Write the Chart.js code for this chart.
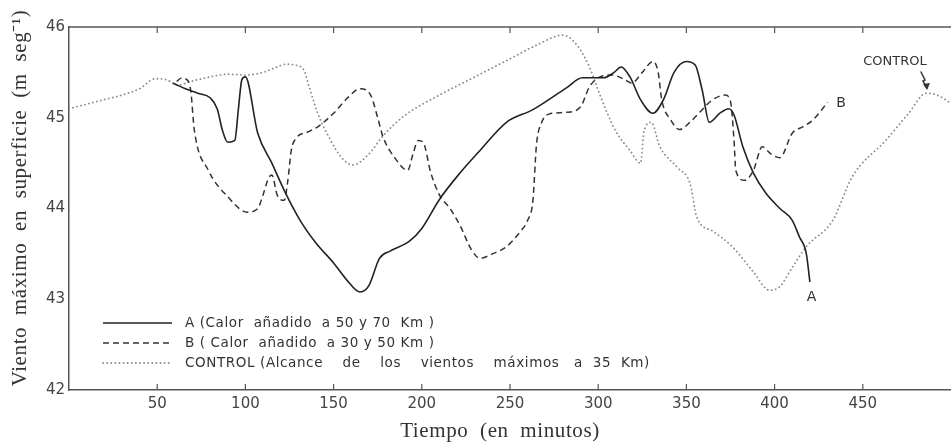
<!DOCTYPE html>
<html>
<head>
<meta charset="utf-8">
<script src="https://cdn.jsdelivr.net/npm/chart.js@4/dist/chart.umd.min.js"></script>
<style>
  html, body { margin: 0; padding: 0; background: #fff; }
</style>
</head>
<body>
<canvas id="grafico" width="951" height="443" style="width:951px;height:443px"></canvas>
<script>
// Curva A (calor añadido a 50 y 70 Km)
const tiempoA = [59, 66, 73, 80, 84, 87, 90, 94, 96, 98, 100, 107, 115, 122, 131, 140, 150, 158, 165, 170,
  176, 182, 193, 200, 210, 222, 233, 248, 263, 282, 291, 303, 309, 313, 318, 324, 331, 337, 343, 350,
  355, 359, 363, 369, 374, 377, 382, 388, 395, 403, 410, 414, 418, 420];
const vientoA = [45.38, 45.32, 45.27, 45.22, 45.1, 44.86, 44.73, 44.75, 45.09, 45.42, 45.45, 44.83, 44.5, 44.2, 43.87, 43.62, 43.4, 43.2, 43.08, 43.15,
  43.45, 43.53, 43.64, 43.78, 44.1, 44.4, 44.64, 44.95, 45.09, 45.33, 45.44, 45.44, 45.5, 45.56, 45.45, 45.2, 45.05, 45.2, 45.5, 45.62,
  45.58, 45.3, 44.95, 45.05, 45.1, 45.03, 44.68, 44.39, 44.17, 44.0, 43.87, 43.69, 43.5, 43.19];

// Curva B (calor añadido a 30 y 50 Km)
const tiempoB = [61, 64, 66, 69, 71, 79, 90, 101, 107, 110, 113, 115, 118, 122, 124, 126, 129, 135, 141, 150,
  158, 165, 171, 175, 178, 185, 192, 195, 198, 201, 205, 210, 216, 222, 228, 233, 240, 248, 256, 260,
  263, 265, 268, 272, 282, 290, 295, 301, 308, 315, 319, 325, 331, 334, 336, 341, 346, 352, 357, 365,
  372, 375, 377, 378, 383, 388, 393, 398, 403, 410, 416, 422, 430];
const vientoB = [45.4, 45.44, 45.43, 45.3, 44.87, 44.42, 44.13, 43.96, 44.0, 44.15, 44.33, 44.37, 44.15, 44.09, 44.3, 44.64, 44.78, 44.84, 44.9, 45.05,
  45.22, 45.32, 45.25, 45.0, 44.79, 44.55, 44.42, 44.6, 44.75, 44.72, 44.4, 44.15, 44.0, 43.8, 43.55, 43.45, 43.5, 43.58, 43.75, 43.87,
  44.09, 44.7, 44.95, 45.04, 45.06, 45.12, 45.34, 45.45, 45.47, 45.42, 45.38, 45.5, 45.62, 45.5, 45.2, 44.98, 44.87, 44.95, 45.05, 45.2,
  45.25, 45.18, 44.75, 44.42, 44.31, 44.42, 44.68, 44.6, 44.56, 44.83, 44.9, 44.98, 45.17];

// Control (alcance de los vientos maximos a 35 Km)
const tiempoC = [0, 10, 20, 30, 40, 49, 55, 62, 69, 80, 90, 100, 110, 118, 123, 128, 133, 136, 141, 147,
  155, 161, 170, 178, 190, 210, 230, 250, 265, 280, 288, 295, 302, 310, 318, 324, 326, 330, 335, 345,
  352, 356, 365, 376, 388, 397, 403, 410, 418, 433, 444, 463, 476, 486, 492, 500];
const vientoC = [45.1, 45.15, 45.2, 45.25, 45.32, 45.43, 45.42, 45.36, 45.4, 45.45, 45.48, 45.47, 45.5, 45.56, 45.59, 45.58, 45.53, 45.35, 45.05, 44.8,
  44.55, 44.48, 44.6, 44.8, 45.02, 45.25, 45.45, 45.65, 45.8, 45.91, 45.8, 45.56, 45.2, 44.85, 44.64, 44.5, 44.85, 44.95, 44.68, 44.45,
  44.28, 43.9, 43.75, 43.58, 43.3, 43.1, 43.14, 43.35, 43.58, 43.87, 44.35, 44.75, 45.05, 45.27, 45.25, 45.16];

const ticksX = [50, 100, 150, 200, 250, 300, 350, 400, 450];
const ticksY = [42, 43, 44, 45, 46];

const puntos = (ts, vs) => ts.map((t, i) => ({ x: t, y: vs[i] }));

const leyenda = [
  { texto: "A (Calor  añadido  a 50 y 70  Km )", dash: [] , color: "#222" },
  { texto: "B ( Calor  añadido  a 30 y 50 Km )", dash: [6, 4], color: "#333" },
  { texto: "CONTROL (Alcance    de    los    vientos    máximos   a  35  Km)", dash: [0.1, 4], color: "#8a8a8a" },
];

const decoracion = {
  id: "decoracion",
  afterDraw(chart) {
    const ctx = chart.ctx;
    const area = chart.chartArea;
    const sx = chart.scales.x;
    const sy = chart.scales.y;
    ctx.save();

    // linea superior y marcas interiores
    ctx.strokeStyle = "#555";
    ctx.lineWidth = 1.5;
    ctx.beginPath();
    ctx.moveTo(area.left, area.top);
    ctx.lineTo(area.right, area.top);
    ctx.stroke();
    ctx.lineWidth = 1.2;
    ticksX.forEach(t => {
      const px = sx.getPixelForValue(t);
      ctx.beginPath();
      ctx.moveTo(px, area.top);
      ctx.lineTo(px, area.top + 6);
      ctx.moveTo(px, area.bottom);
      ctx.lineTo(px, area.bottom - 6);
      ctx.stroke();
    });

    // leyenda
    ctx.font = "13.5px 'DejaVu Sans'";
    ctx.textBaseline = "middle";
    ctx.fillStyle = "#333";
    ctx.letterSpacing = "0.6px";
    leyenda.forEach((l, i) => {
      const y = 323 + i * 20;
      ctx.strokeStyle = l.color;
      ctx.lineWidth = l.dash.length && l.dash[0] < 1 ? 1.8 : 1.5;
      ctx.lineCap = l.dash.length && l.dash[0] < 1 ? "round" : "butt";
      ctx.setLineDash(l.dash);
      ctx.beginPath();
      ctx.moveTo(103, y);
      ctx.lineTo(172, y);
      ctx.stroke();
      ctx.setLineDash([]);
      ctx.fillText(l.texto, 185, y);
    });

    // rotulos de curvas
    ctx.font = "14px 'DejaVu Sans'";
    ctx.letterSpacing = "0px";
    ctx.textAlign = "center";
    ctx.fillText("A", sx.getPixelForValue(421), sy.getPixelForValue(43.19) + 15);
    ctx.textAlign = "left";
    ctx.fillText("B", sx.getPixelForValue(435), sy.getPixelForValue(45.2) + 4);
    ctx.font = "13px 'DejaVu Sans'";
    ctx.textAlign = "center";
    ctx.fillText("CONTROL", 895, 62);
    // flecha
    ctx.strokeStyle = "#333";
    ctx.lineWidth = 1.5;
    ctx.beginPath();
    ctx.moveTo(921, 72);
    ctx.lineTo(925, 80);
    ctx.lineTo(923, 81);
    ctx.lineTo(927, 88);
    ctx.stroke();
    ctx.fillStyle = "#333";
    ctx.beginPath();
    ctx.moveTo(927, 90);
    ctx.lineTo(923, 84);
    ctx.lineTo(930, 83);
    ctx.closePath();
    ctx.fill();

    // titulos de ejes
    ctx.fillStyle = "#333";
    ctx.font = "21px 'Liberation Serif'";
    ctx.letterSpacing = "0.6px";
    ctx.textAlign = "center";
    ctx.fillText("Tiempo  (en  minutos)", 500, 431);
    ctx.translate(20, 198);
    ctx.rotate(-Math.PI / 2);
    ctx.fillText("Viento  máximo  en  superficie  (m  seg⁻¹)", 0, 0);
    ctx.restore();
  },
};

new Chart(document.getElementById("grafico").getContext("2d"), {
  type: "line",
  data: {
    datasets: [
      {
        label: "A",
        data: puntos(tiempoA, vientoA),
        borderColor: "#222",
        borderWidth: 1.6,
        pointRadius: 0,
        cubicInterpolationMode: "monotone",
      },
      {
        label: "B",
        data: puntos(tiempoB, vientoB),
        borderColor: "#333",
        borderWidth: 1.5,
        borderDash: [6, 4],
        pointRadius: 0,
        cubicInterpolationMode: "monotone",
      },
      {
        label: "CONTROL",
        data: puntos(tiempoC, vientoC),
        borderColor: "#8a8a8a",
        borderWidth: 1.8,
        borderDash: [0.1, 4],
        borderCapStyle: "round",
        pointRadius: 0,
        cubicInterpolationMode: "monotone",
      },
    ],
  },
  options: {
    responsive: false,
    animation: false,
    layout: { padding: { top: 27, right: 0, left: 0, bottom: 0 } },
    plugins: { legend: { display: false }, tooltip: { enabled: false } },
    scales: {
      x: {
        type: "linear",
        min: 0,
        max: 500,
        afterFit: s => { s.height = 53; },
        afterBuildTicks: s => { s.ticks = ticksX.map(v => ({ value: v })); },
        grid: { display: false, drawTicks: false },
        border: { display: true, color: "#555", width: 1.5 },
        ticks: { color: "#444", padding: 5, font: { family: "DejaVu Sans", size: 15 }, maxRotation: 0 },
      },
      y: {
        min: 42,
        max: 46,
        afterFit: s => { s.width = 69; },
        afterBuildTicks: s => { s.ticks = ticksY.map(v => ({ value: v })); },
        grid: { display: false, drawTicks: false },
        border: { display: true, color: "#555", width: 1.5 },
        ticks: { color: "#444", padding: 4, font: { family: "DejaVu Sans", size: 15 } },
      },
    },
  },
  plugins: [decoracion],
});
</script>
</body>
</html>
